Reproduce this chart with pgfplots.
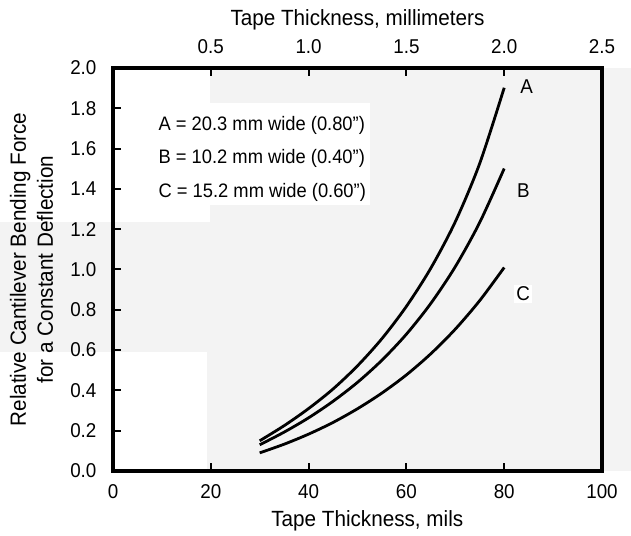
\documentclass[border=0pt]{standalone}
\usepackage{fontspec}
\setmainfont{Liberation Sans}[FakeStretch=0.94]
\usepackage{pgfplots}
\pgfplotsset{compat=1.18}
\definecolor{bg}{HTML}{F3F3F3}
\begin{document}
\fontsize{20}{24}\selectfont
\begin{tikzpicture}
% scanned-paper background tones
\fill[bg] (0pt,0pt) rectangle (518pt,403pt);
\fill[bg] (-113pt,119pt) rectangle (0pt,249pt);
\fill[white] (0pt,249pt) rectangle (97pt,403pt);
\fill[white] (0pt,0pt) rectangle (94pt,119pt);
\fill[white] (0pt,266pt) rectangle (257pt,368pt);
\begin{axis}[
  every axis/.append style={line width=3.2pt},
  scale only axis, width=489pt, height=403pt,
  xmin=0, xmax=100, ymin=0, ymax=2,
  axis line style={line width=3.2pt},
  xtick={0,20,40,60,80,100}, ytick={0,0.2,...,2.01},
  xtick pos=bottom, ytick pos=left, tick align=inside,
  major tick length=8pt, tick style={line width=2pt, black},
  /pgf/number format/assume math mode=true,
  xticklabel style={anchor=center, yshift=-21pt},
  yticklabel style={anchor=east, inner sep=0pt, xshift=-15pt,
    /pgf/number format/.cd, fixed, fixed zerofill, precision=1},
  xlabel={Tape Thickness, mils},
  xlabel style={at={(axis description cs:0.52,0)}, anchor=center, yshift=-50pt, font=\fontsize{22}{26}\selectfont},
  clip=false,
]
\addplot[line width=2.8pt, smooth, black] coordinates {
 (30,0.15) (35,0.225) (40,0.31) (45,0.407) (50,0.522) (55,0.657) (60,0.817) (65,1.007) (70,1.237) (75,1.527) (80,1.902)};
\addplot[line width=2.8pt, smooth, black] coordinates {
 (30,0.13) (35,0.193) (40,0.264) (45,0.346) (50,0.44) (55,0.55) (60,0.679) (65,0.832) (70,1.014) (75,1.234) (80,1.501)};
\addplot[line width=2.8pt, smooth, black] coordinates {
 (30,0.09) (35,0.133) (40,0.183) (45,0.241) (50,0.309) (55,0.387) (60,0.477) (65,0.582) (70,0.704) (75,0.846) (80,1.01)};
\node at (axis cs:84.6,1.91) {A};
\node at (axis cs:83.9,1.39) {B};
\node[fill=white, inner sep=2pt] at (axis cs:83.9,0.88) {C};
\node[anchor=west, inner sep=0pt, font=\fontsize{19.5}{23}\selectfont] at (axis cs:9,1.717) {A = 20.3 mm wide (0.80")};
\node[anchor=west, inner sep=0pt, font=\fontsize{19.5}{23}\selectfont] at (axis cs:9,1.553) {B = 10.2 mm wide (0.40")};
\node[anchor=west, inner sep=0pt, font=\fontsize{19.5}{23}\selectfont] at (axis cs:9,1.380) {C = 15.2 mm wide (0.60")};
\end{axis}
\begin{axis}[
  every axis/.append style={line width=3.2pt},
  scale only axis, width=489pt, height=403pt,
  xmin=0, xmax=2.5, ymin=0, ymax=2,
  axis x line*=top, axis y line=none,
  axis line style={line width=3.2pt},
  xtick={0.5,1.0,1.5,2.0,2.5},
  tick align=inside, major tick length=8pt, tick style={line width=2pt, black},
  /pgf/number format/assume math mode=true,
  xticklabel style={anchor=center, yshift=21pt,
    /pgf/number format/.cd, fixed, fixed zerofill, precision=1},
  xlabel={Tape Thickness, millimeters},
  xlabel style={at={(axis description cs:0.5,1)}, anchor=center, yshift=48pt, font=\fontsize{22}{26}\selectfont},
]
\end{axis}
\node[rotate=90, align=center, font=\fontsize{22}{27}\selectfont] at (-81.5pt,201.5pt)
  {Relative Cantilever Bending Force\\for a Constant Deflection};
\pgfresetboundingbox
\path[use as bounding box] (-113pt,-64pt) rectangle (518pt,471pt);
\end{tikzpicture}
\end{document}
